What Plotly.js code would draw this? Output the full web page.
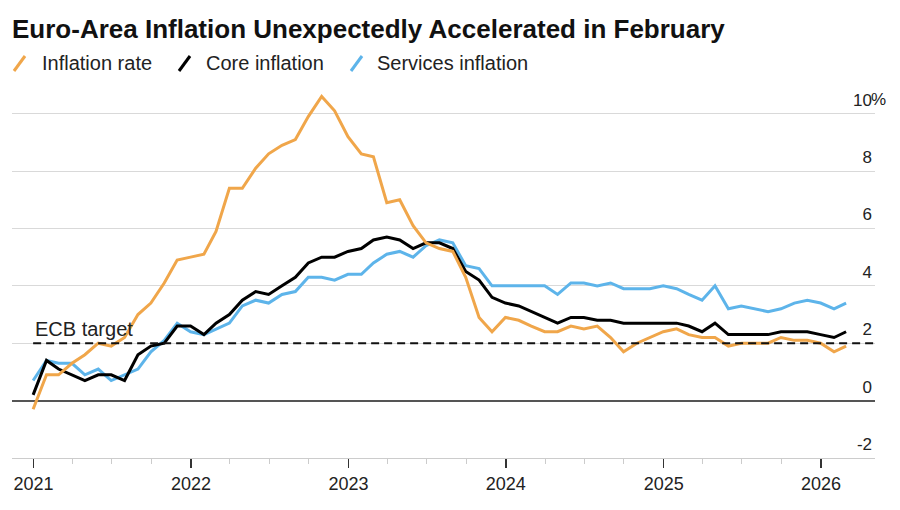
<!DOCTYPE html>
<html>
<head>
<meta charset="utf-8">
<script src="https://cdn.plot.ly/plotly-3.0.1.min.js"></script>
<style>
  html, body { margin: 0; padding: 0; background: #fff; }
  #chart { width: 900px; height: 510px; }
</style>
</head>
<body>
<div id="chart"></div>
<script>
// ---- Data (monthly, Dec 2020 – Feb 2026, % year-on-year) ----
const startMonth = "2020-12";
const inflationRate = [
  -0.3,
  0.9, 0.9, 1.3, 1.6, 2.0, 1.9, 2.2, 3.0, 3.4, 4.1, 4.9, 5.0,
  5.1, 5.9, 7.4, 7.4, 8.1, 8.6, 8.9, 9.1, 9.9, 10.6, 10.1, 9.2,
  8.6, 8.5, 6.9, 7.0, 6.1, 5.5, 5.3, 5.2, 4.3, 2.9, 2.4, 2.9,
  2.8, 2.6, 2.4, 2.4, 2.6, 2.5, 2.6, 2.2, 1.7, 2.0, 2.2, 2.4,
  2.5, 2.3, 2.2, 2.2, 1.9, 2.0, 2.0, 2.0, 2.2, 2.1, 2.1, 2.0,
  1.7, 1.9
];
const coreInflation = [
  0.2,
  1.4, 1.1, 0.9, 0.7, 0.9, 0.9, 0.7, 1.6, 1.9, 2.0, 2.6, 2.6,
  2.3, 2.7, 3.0, 3.5, 3.8, 3.7, 4.0, 4.3, 4.8, 5.0, 5.0, 5.2,
  5.3, 5.6, 5.7, 5.6, 5.3, 5.5, 5.5, 5.3, 4.5, 4.2, 3.6, 3.4,
  3.3, 3.1, 2.9, 2.7, 2.9, 2.9, 2.8, 2.8, 2.7, 2.7, 2.7, 2.7,
  2.7, 2.6, 2.4, 2.7, 2.3, 2.3, 2.3, 2.3, 2.4, 2.4, 2.4, 2.3,
  2.2, 2.4
];
const servicesInflation = [
  0.7,
  1.4, 1.3, 1.3, 0.9, 1.1, 0.7, 0.9, 1.1, 1.7, 2.1, 2.7, 2.4,
  2.3, 2.5, 2.7, 3.3, 3.5, 3.4, 3.7, 3.8, 4.3, 4.3, 4.2, 4.4,
  4.4, 4.8, 5.1, 5.2, 5.0, 5.4, 5.6, 5.5, 4.7, 4.6, 4.0, 4.0,
  4.0, 4.0, 4.0, 3.7, 4.1, 4.1, 4.0, 4.1, 3.9, 3.9, 3.9, 4.0,
  3.9, 3.7, 3.5, 4.0, 3.2, 3.3, 3.2, 3.1, 3.2, 3.4, 3.5, 3.4,
  3.2, 3.4
];
const seriesNames = ["Inflation rate", "Core inflation", "Services inflation"];
const ecbTarget = 2;
const ecbLabel = "ECB target";
const yTickVals = [-2, 0, 2, 4, 6, 8, 10];
const yTickText = ["-2", "0", "2", "4", "6", "8", "10"];
const yTopSuffix = "%";
const titleText = "Euro-Area Inflation Unexpectedly Accelerated in February";

// ---- Helpers ----
function monthEnds(start, n) {
  const [y, m] = start.split("-").map(Number);
  const out = [];
  for (let i = 0; i < n; i++) {
    const d = new Date(Date.UTC(y, m - 1 + i + 1, 0));
    out.push(d.toISOString().slice(0, 10));
  }
  return out;
}
const dates = monthEnds(startMonth, inflationRate.length);

const W = 900, H = 510;
const M = { l: 12, r: 25, t: 85, b: 52 };
const plotW = W - M.l - M.r, plotH = H - M.t - M.b;
const px = x => (x - M.l) / plotW;          // pixel -> paper x
const py = y => (H - M.b - y) / plotH;      // pixel -> paper y

const colors = { inflation: "#F0A64A", core: "#000000", services: "#5DB4EA" };
const xRange = ["2020-11-12", "2026-05-06"];

const traces = [
  { x: dates, y: servicesInflation, name: seriesNames[2], type: "scatter", mode: "lines",
    line: { color: colors.services, width: 3 } },
  { x: dates, y: coreInflation, name: seriesNames[1], type: "scatter", mode: "lines",
    line: { color: colors.core, width: 3 } },
  { x: dates, y: inflationRate, name: seriesNames[0], type: "scatter", mode: "lines",
    line: { color: colors.inflation, width: 3 } }
];

const legendItems = [
  { name: seriesNames[0], color: colors.inflation, sx: 14, tx: 40 },
  { name: seriesNames[1], color: colors.core, sx: 179, tx: 204 },
  { name: seriesNames[2], color: colors.services, sx: 351, tx: 375 }
];

const shapes = [
  { type: "line", xref: "x", yref: "y", x0: dates[0], x1: xRange[1], y0: ecbTarget, y1: ecbTarget,
    line: { color: "#111", width: 2, dash: "8px,5px" }, layer: "above" }
];
const annotations = [
  { xref: "x", yref: "y", x: dates[0], y: ecbTarget, text: ecbLabel, showarrow: false,
    xanchor: "left", yanchor: "bottom", yshift: 1, font: { size: 20, color: "#222" } },
  { xref: "paper", yref: "y", x: 1, y: yTickVals[yTickVals.length - 1], text: yTopSuffix, showarrow: false,
    xanchor: "left", yanchor: "middle", xshift: -6, yshift: 14, font: { size: 17, color: "#222" } }
];
legendItems.forEach(it => {
  shapes.push({ type: "line", xref: "paper", yref: "paper",
    x0: px(it.sx), x1: px(it.sx + 11), y0: py(71), y1: py(56),
    line: { color: it.color, width: 3 } });
  annotations.push({ xref: "paper", yref: "paper", x: px(it.tx), y: py(63), text: it.name,
    showarrow: false, xanchor: "left", yanchor: "middle", font: { size: 20, color: "#222" } });
});

const layout = {
  width: W, height: H, margin: M,
  paper_bgcolor: "#fff", plot_bgcolor: "#fff",
  font: { family: "Liberation Sans, Arial, sans-serif", color: "#222" },
  showlegend: false,
  title: { text: "<b>" + titleText + "</b>", xref: "container", yref: "container",
    x: 12 / W, xanchor: "left", y: 1 - 29 / H, yanchor: "middle",
    font: { size: 26, color: "#111", family: "Liberation Sans, Arial, sans-serif" } },
  xaxis: {
    type: "date", range: xRange, tick0: "2021-01-01", dtick: "M12", tickformat: "%Y",
    ticks: "outside", ticklen: 9, tickwidth: 1.5, tickcolor: "#333",
    showgrid: false, zeroline: false, showline: true, linecolor: "#cccccc", linewidth: 1,
    tickfont: { size: 18, color: "#222" },
    minor: { dtick: "M3", tick0: "2021-01-01", ticks: "outside", ticklen: 5, tickcolor: "#cccccc", tickwidth: 1, showgrid: false }
  },
  yaxis: {
    range: [-2, 11], side: "right", tickmode: "array", tickvals: yTickVals, ticktext: yTickText,
    ticklabelposition: "inside", ticks: "", ticklabelshift: -14, ticklabelstandoff: 0,
    showgrid: true, gridcolor: "#d9d9d9", gridwidth: 1,
    zeroline: true, zerolinecolor: "#555", zerolinewidth: 2, showline: false,
    tickfont: { size: 17, color: "#222" }
  },
  shapes: shapes,
  annotations: annotations,
  hovermode: false
};

Plotly.newPlot("chart", traces, layout, { staticPlot: true, displayModeBar: false });
</script>
</body>
</html>
